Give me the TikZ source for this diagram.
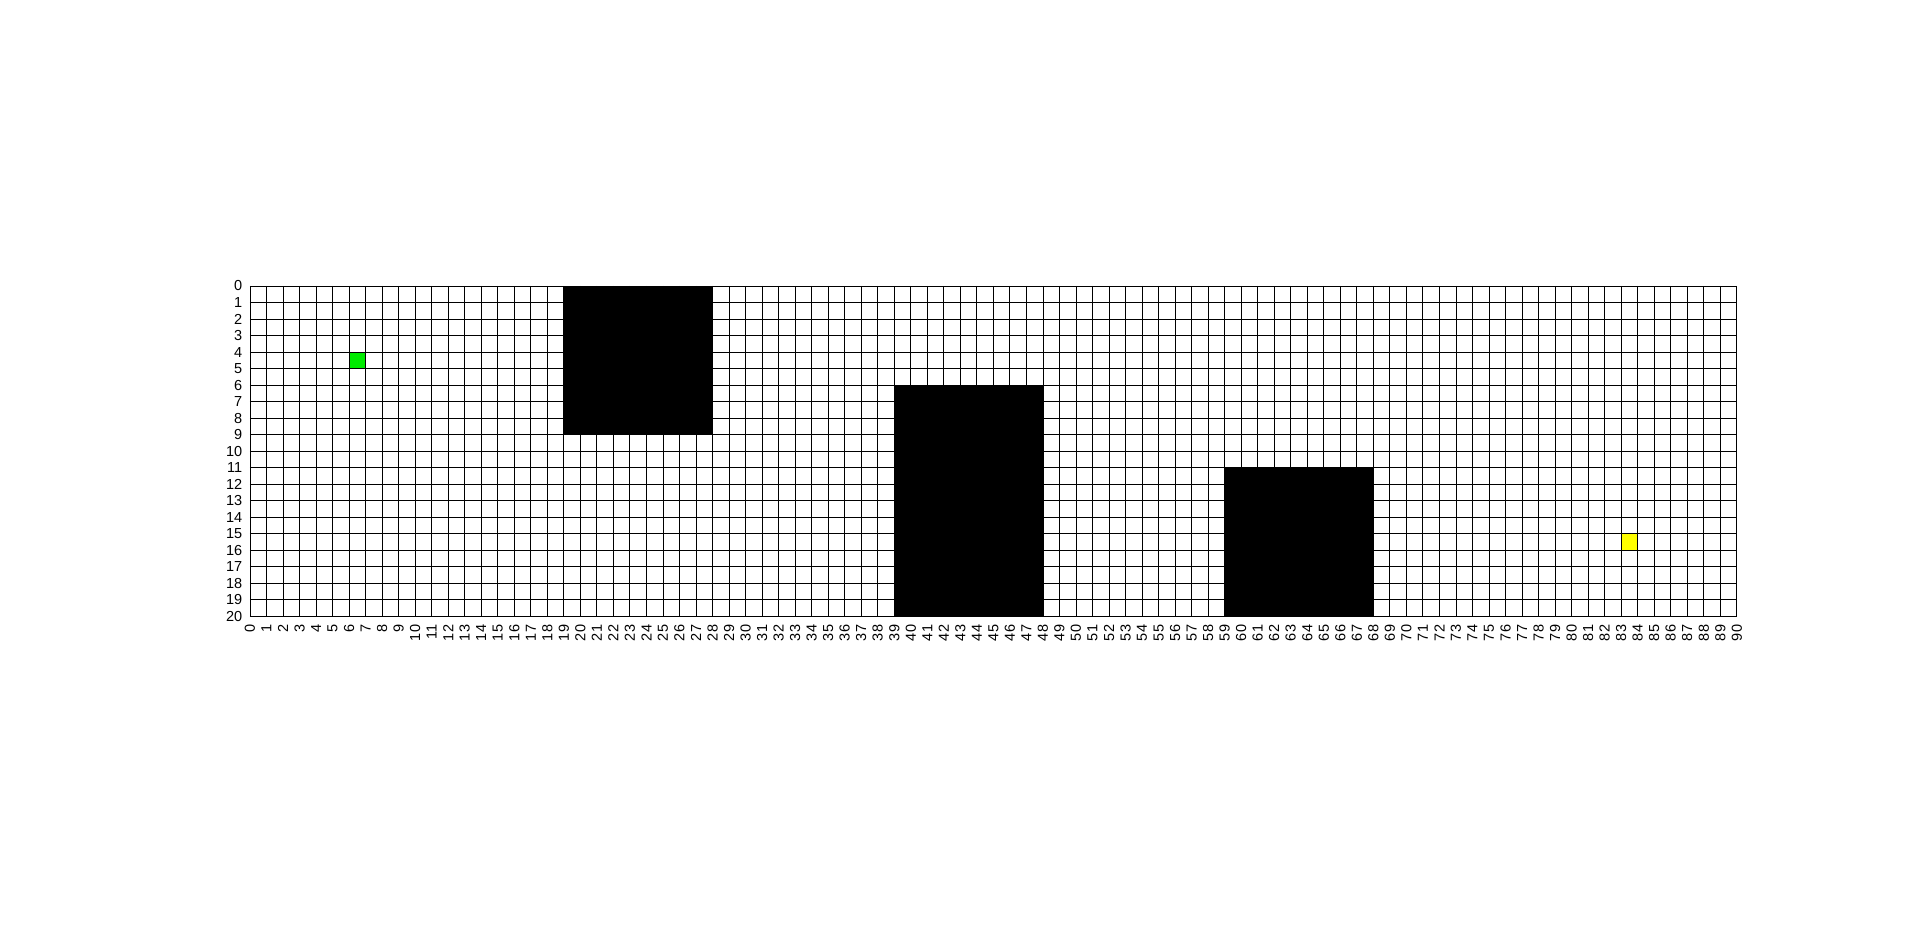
\documentclass[tikz,border=0pt]{standalone}
\usepackage{fontspec}
\setmainfont{Liberation Sans}
\definecolor{startgreen}{RGB}{0,235,0}
\definecolor{goalyellow}{RGB}{255,255,0}
\tikzset{
  cellline/.style={line width=0.6pt, black},
  ylab/.style={anchor=east, inner sep=0pt, font=\fontsize{10}{12}\selectfont},
  xlab/.style={rotate=90, anchor=east, inner sep=0pt, font=\fontsize{10}{12}\selectfont},
}
\begin{document}
\begin{tikzpicture}[x=4mm, y=-4mm]
    % 参数设置
    \def\m{90} % x方向格数
    \def\n{20} % y方向格数

    % 画布范围
    \useasboundingbox (-15.13,-17.31) rectangle (101.09,39.41);

    % 障碍物
    \fill[black] (19,0) rectangle (28,9);
    \fill[black] (39,6) rectangle (48,20);
    \fill[black] (59,11) rectangle (68,20);

    % 起点和终点
    \fill[startgreen] (6,4) rectangle (7,5);
    \fill[goalyellow] (83,15) rectangle (84,16);

    % 网格线
    \foreach \x in {0,...,\m} {
      \draw[cellline] (\x,0) -- (\x,\n);
    }
    \foreach \y in {0,...,\n} {
      \draw[cellline] (0,\y) -- (\m,\y);
    }

    % 坐标标签
    \foreach \y in {0,...,\n} {
      \node[ylab] (yl-\y) at (-0.45,\y) {\y};
    }
    \foreach \x in {0,...,\m} {
      \node[xlab] (xl-\x) at (\x,\n+0.5) {\x};
    }

\end{tikzpicture}
\end{document}
